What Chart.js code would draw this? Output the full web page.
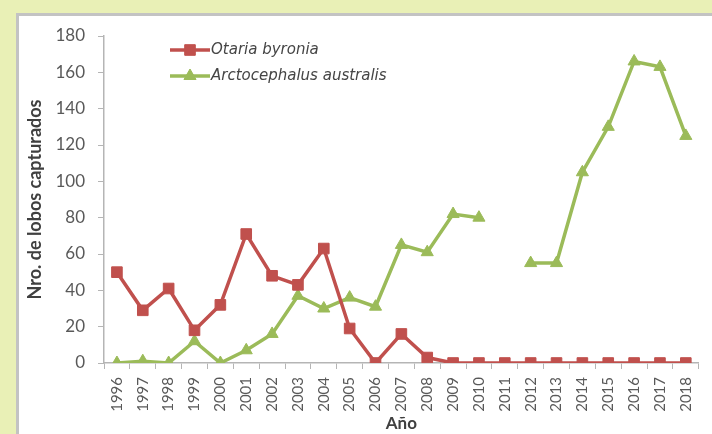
<!DOCTYPE html>
<html>
<head>
<meta charset="utf-8">
<script src="https://cdn.jsdelivr.net/npm/chart.js@4/dist/chart.umd.min.js"></script>
<style>
  html, body { margin: 0; padding: 0; background: #e9f0b6; overflow: hidden; }
  #panel {
    position: absolute; left: 16px; top: 13px; width: 720px; height: 440px;
    background: #fff; border-left: 3px solid #c3c3c3; border-top: 3px solid #c3c3c3;
  }
  #chart { position: absolute; left: 0; top: 0; }
</style>
</head>
<body>
<div id="panel"></div>
<canvas id="chart" width="712" height="434"></canvas>
<script>
const years = ['1996', '1997', '1998', '1999', '2000', '2001', '2002', '2003', '2004', '2005', '2006', '2007',
  '2008', '2009', '2010', '2011', '2012', '2013', '2014', '2015', '2016', '2017', '2018'];
const otaria = [50, 29, 41, 18, 32, 71, 48, 43, 63, 19, 0, 16, 3, 0, 0, 0, 0, 0, 0, 0, 0, 0, 0];
const arcto = [0, 1, 0, 12, 0, 7, 16, 37, 30, 36, 31, 65, 61, 82, 80, null, 55, 55, 105, 130, 166, 163, 125];
const yTicks = [0, 20, 40, 60, 80, 100, 120, 140, 160, 180];

const red = '#c0504d';
const green = '#9bbb59';
const axisColor = '#b5b5b5';
const textColor = '#595959';

// legend drawn inside the plot, top left
const insideLegend = {
  id: 'insideLegend',
  afterDraw(chart) {
    const ctx = chart.ctx;
    const x0 = 170, x1 = 210;
    const rows = [50, 76];
    chart.data.datasets.forEach((ds, i) => {
      const y = rows[i];
      ctx.save();
      ctx.strokeStyle = ds.borderColor;
      ctx.lineWidth = ds.borderWidth;
      ctx.beginPath();
      ctx.moveTo(x0, y);
      ctx.lineTo(x1, y);
      ctx.stroke();
      ctx.fillStyle = ds.pointBackgroundColor;
      ctx.strokeStyle = ds.pointBorderColor;
      ctx.lineWidth = 1;
      Chart.helpers.drawPoint(ctx, { pointStyle: ds.pointStyle, radius: ds.pointRadius, borderWidth: 1 }, (x0 + x1) / 2, y);
      ctx.fillStyle = '#454545';
      ctx.font = 'italic 15px "DejaVu Sans"';
      ctx.textBaseline = 'middle';
      ctx.fillText(ds.label, x1 + 1, y);
      ctx.restore();
    });
  }
};

new Chart(document.getElementById('chart'), {
  type: 'line',
  data: {
    labels: years,
    datasets: [
      {
        label: 'Otaria byronia',
        data: otaria,
        borderColor: red,
        backgroundColor: red,
        pointBackgroundColor: red,
        pointBorderColor: red,
        borderWidth: 3.5,
        pointStyle: 'rect',
        pointRadius: 7.5,
        pointBorderWidth: 1,
        tension: 0
      },
      {
        label: 'Arctocephalus australis',
        data: arcto,
        borderColor: green,
        backgroundColor: green,
        pointBackgroundColor: green,
        pointBorderColor: green,
        borderWidth: 3.5,
        pointStyle: 'triangle',
        pointRadius: 7,
        pointBorderWidth: 1,
        spanGaps: false,
        tension: 0
      }
    ]
  },
  options: {
    responsive: false,
    animation: false,
    devicePixelRatio: 1,
    layout: { padding: { left: 20, top: 36, right: 2, bottom: 0 } },
    plugins: {
      legend: { display: false },
      tooltip: { enabled: false }
    },
    scales: {
      x: {
        offset: true,
        grid: {
          offset: true,
          drawOnChartArea: false,
          drawTicks: true,
          tickLength: 6,
          color: axisColor
        },
        border: { color: axisColor, width: 1.5 },
        ticks: {
          color: textColor,
          font: { family: 'Lato', size: 15 },
          minRotation: 90,
          maxRotation: 90,
          autoSkip: false,
          padding: 8
        },
        title: {
          display: true,
          text: 'Año',
          color: '#404040',
          font: { family: 'Lato', size: 17, weight: 'bold' },
          padding: { top: 0, bottom: 0 }
        },
        afterFit(scale) { scale.height = 71; }
      },
      y: {
        min: 0,
        max: 180,
        afterBuildTicks(scale) { scale.ticks = yTicks.map(v => ({ value: v })); },
        grid: {
          drawOnChartArea: false,
          drawTicks: true,
          tickLength: 6,
          color: axisColor
        },
        border: { color: axisColor, width: 1.5 },
        ticks: {
          color: textColor,
          font: { family: 'Lato', size: 17 },
          padding: 13
        },
        title: {
          display: true,
          text: 'Nro. de lobos capturados',
          color: '#404040',
          font: { family: 'Lato', size: 18, weight: 'bold' },
          padding: { top: 4, bottom: 0 }
        },
        afterFit(scale) { scale.width = 84; }
      }
    }
  },
  plugins: [insideLegend]
});
</script>
</body>
</html>
